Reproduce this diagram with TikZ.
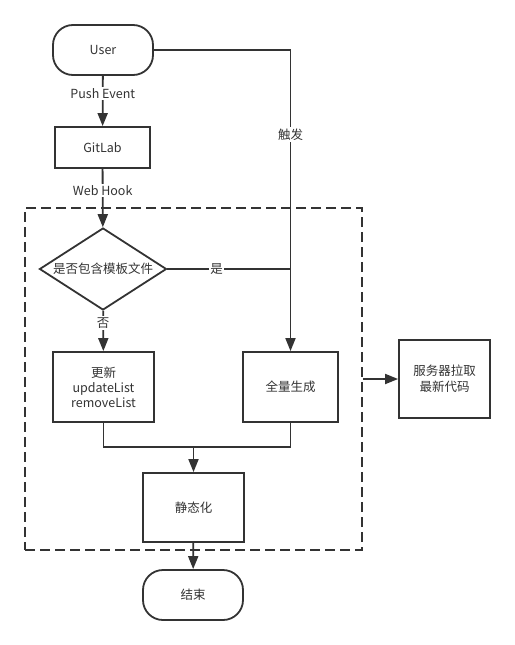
\documentclass[tikz,border=0pt]{standalone}
\usepackage{fontspec}
\setmainfont{Noto Sans CJK SC}
\usetikzlibrary{positioning,arrows.meta,shapes.geometric}
\definecolor{ink}{HTML}{333333}

\begin{document}
\begin{tikzpicture}[x=1pt,y=-1pt,font=\fontsize{12.5}{16}\selectfont,
  every node/.style={text=ink},
  box/.style={draw=ink,line width=1.8pt,align=center,inner sep=2pt},
  term/.style={box,rounded corners=20pt,minimum width=100pt,minimum height=50pt},
  lbl/.style={fill=white,inner sep=1.5pt},
  ar/.style={-{Triangle[length=13pt,width=10pt]},line width=1.8pt,draw=ink},
  ln/.style={line width=1.8pt,draw=ink}]
\useasboundingbox (0,0) rectangle (514,645);
% dashed frame round the server-side steps
\node[draw=ink,line width=1.8pt,dash pattern=on 10pt off 5pt,minimum width=337pt,minimum height=342pt,inner sep=0pt] (frame) at (193.5,379) {};
\node[term] (user) at (103,50) {User};
\node[box,minimum width=95pt,minimum height=41pt] (git) at (102.5,147.5) {GitLab};
\node[diamond,draw=ink,line width=1.8pt,minimum width=127pt,minimum height=82pt,inner sep=0pt,
  label={[text=ink]center:是否包含模板文件}] (dia) at (103,269) {};
\node[box,minimum width=101pt,minimum height=70pt,font=\fontsize{12.5}{15}\selectfont] (upd) at (103.5,387) {更新\\updateList\\removeList};
\node[box,minimum width=95pt,minimum height=70pt] (full) at (290.5,387) {全量生成};
\node[box,minimum width=101pt,minimum height=69pt] (stat) at (193.5,507.5) {静态化};
\node[term] (end) at (193,595) {结束};
\node[box,minimum width=91pt,minimum height=78pt] (srv) at (444.5,379) {服务器拉取\\最新代码};
\coordinate (mrg) at (193.5,447);
\coordinate (jn) at (full.north |- dia.east);
\draw[ar] (user) -- (git) node[pos=0.35,lbl] {Push Event};
\draw[ar] (git) -- (dia) node[pos=0.37,lbl] {Web Hook};
\draw[ar] (dia) -- (upd) node[pos=0.3,lbl] {否};
\draw[ar] (user.east) -| (full.north) node[pos=0.64,lbl] {触发};
\draw[ln] (dia.east) -- (jn) node[pos=0.4,lbl] {是};
\draw[ln] (upd.south) |- (mrg) -| (full.south);
\draw[ar] (mrg) -- (stat);
\draw[ar] (stat) -- (end);
\draw[ar] (frame.east |- srv.west) -- (srv.west);
\end{tikzpicture}
\end{document}
